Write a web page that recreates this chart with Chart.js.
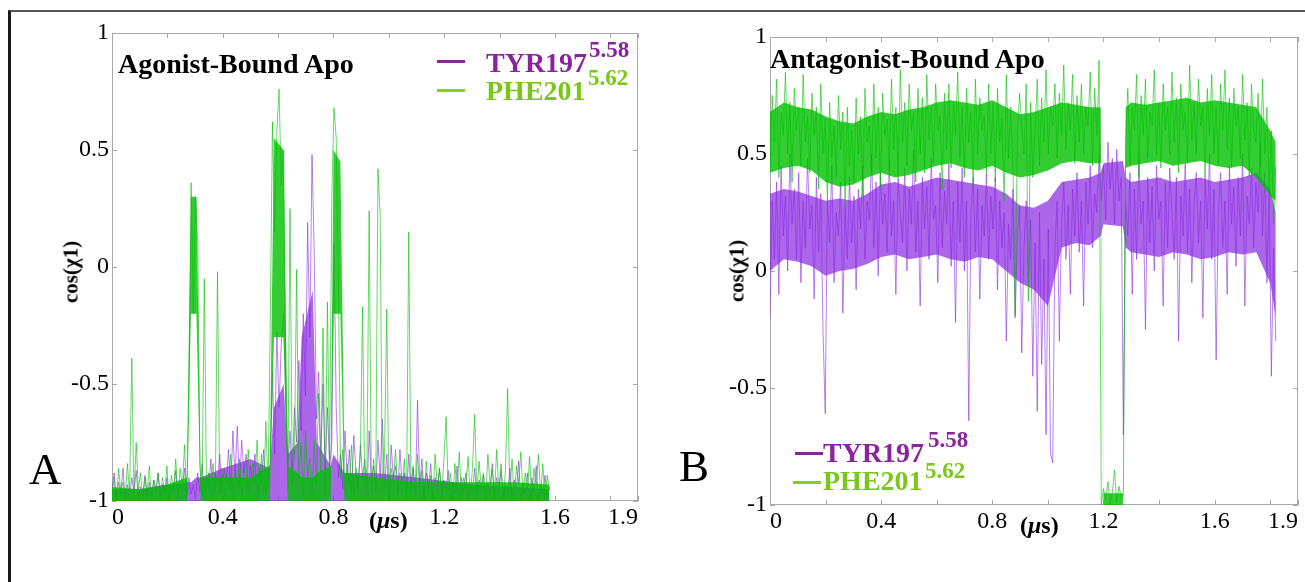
<!DOCTYPE html>
<html>
<head>
<meta charset="utf-8">
<script src="https://cdn.jsdelivr.net/npm/chart.js@4.4.1/dist/chart.umd.min.js"></script>
<style>
  html, body { margin: 0; padding: 0; background: #fff; }
  #page { position: relative; width: 1305px; height: 582px; overflow: hidden; font-family: 'Liberation Serif', 'Times New Roman', serif; }
  .frame { position: absolute; left: 8px; top: 10px; width: 1400px; height: 700px; border-top: 2px solid #555; border-left: 3px solid #1a1a1a; }
  canvas { position: absolute; top: 0; }
  .t { position: absolute; line-height: 1; white-space: nowrap; }
  .b { font-weight: bold; }
  .purple { color: #8b239f; }
  .green { color: #79c816; }
  .sw { position: absolute; height: 3px; }
  .ytitle { position: absolute; font-weight: bold; font-size: 21px; line-height: 1; white-space: nowrap; transform: translate(-50%, -50%) rotate(-90deg); }
</style>
</head>
<body>
<div id="page">
  <div class="frame"></div>
  <canvas id="agoChart" width="652" height="582" style="left:0"></canvas>
  <canvas id="antChart" width="653" height="582" style="left:652px"></canvas>

  <div class="t b" style="left:118px; top:50px; font-size:28px;">Agonist-Bound Apo</div>
  <div class="sw" style="left:437px; top:60px; width:28px; background:#8b239f;"></div>
  <div class="sw" style="left:437px; top:89px; width:28px; background:#86cc2a;"></div>
  <div class="t b purple" style="left:486px; top:49px; font-size:28px;">TYR197</div>
  <div class="t b purple" style="left:589px; top:38px; font-size:23px;">5.58</div>
  <div class="t b green" style="left:486px; top:77px; font-size:28px;">PHE201</div>
  <div class="t b green" style="left:588px; top:66px; font-size:23px;">5.62</div>
  <div class="ytitle" style="left:71px; top:272px;">cos(χ1)</div>
  <div class="t" style="left:29px; top:447px; font-size:45px;">A</div>
  <div class="t b" style="left:369px; top:508px; font-size:24px;">(<i>μ</i>s)</div>

  <div class="t b" style="left:770px; top:45px; font-size:28px;">Antagonist-Bound Apo</div>
  <div class="sw" style="left:795px; top:452px; width:28px; background:#8b239f;"></div>
  <div class="sw" style="left:793px; top:481px; width:28px; background:#86cc2a;"></div>
  <div class="t b purple" style="left:823px; top:439px; font-size:28px;">TYR197</div>
  <div class="t b purple" style="left:928px; top:428px; font-size:23px;">5.58</div>
  <div class="t b green" style="left:823px; top:467px; font-size:28px;">PHE201</div>
  <div class="t b green" style="left:925px; top:459px; font-size:23px;">5.62</div>
  <div class="ytitle" style="left:737px; top:271px;">cos(χ1)</div>
  <div class="t" style="left:679px; top:444px; font-size:45px;">B</div>
  <div class="t b" style="left:1020px; top:513px; font-size:24px;">(<i>μ</i>s)</div>
</div>
<script>
// time axis (µs)
const xTickVals = [0, 0.2, 0.4, 0.6, 0.8, 1.0, 1.2, 1.4, 1.6, 1.8, 1.9];
const xLabelVals = [0, 0.4, 0.8, 1.2, 1.6, 1.9];

// ---- Agonist-bound apo, 0 - 1.58 us ----
const agoEnd = 1.58;
// frame-to-frame trace (light spikes)
const agoTyr = [
  -0.95,-0.88,-0.99,-0.92,-0.97,-0.86,-1.0,-0.93,-0.98,-0.9,-0.96,-0.87,-0.99,-0.94,-0.97,-0.89,-1.0,-0.92,-0.98,-0.91,
  -0.96,-0.88,-0.99,-0.93,-0.97,-0.9,-1.0,-0.94,-0.96,-0.87,-0.99,-0.92,-0.95,-0.86,-0.98,-0.9,-0.97,-0.93,-0.99,-0.88,
  -0.96,-0.84,-0.99,-0.9,-0.95,-0.82,-0.98,-0.88,-0.93,-0.8,-0.97,-0.86,-0.92,-0.78,-0.95,-0.7,-0.9,-0.68,-0.94,-0.74,
  -0.88,-0.8,-0.97,-0.85,-0.92,-0.8,-0.99,-0.86,-0.93,-0.78,-0.97,-0.88,-0.84,-0.45,-0.8,-0.28,-0.6,-0.33,-0.2,-0.55,
  -0.85,-0.7,-0.92,-0.6,-0.75,-0.4,-0.7,-0.2,-0.55,0.19,-0.3,0.48,0.06,-0.65,-0.45,-0.8,-0.5,-0.88,-0.6,-0.85,
  -0.75,0.1,-0.6,-0.9,-0.8,-0.95,-0.7,-0.9,-0.78,-0.97,-0.72,-0.88,-0.95,-0.76,-0.9,-0.82,-0.98,-0.7,-0.92,-0.85,
  -0.96,-0.74,-0.9,-0.65,-0.94,-0.8,-0.99,-0.76,-0.9,-0.85,-0.97,-0.78,-0.93,-0.88,-0.99,-0.8,-0.95,-0.86,-0.98,-0.57,
  -0.94,-0.82,-0.99,-0.88,-0.95,-0.84,-1.0,-0.9,-0.96,-0.86,-0.99,-0.91,-0.95,-0.87,-1.0,-0.92,-0.97,-0.85,-0.99,-0.9,
  -0.96,-0.88,-1.0,-0.93,-0.97,-0.86,-0.99,-0.91,-0.95,-0.89,-1.0,-0.92,-0.97,-0.84,-0.99,-0.9,-0.96,-0.87,-1.0,-0.93,
  -0.97,-0.86,-0.99,-0.91,-0.95,-0.83,-1.0,-0.92,-0.97,-0.88,-0.99,-0.9,-0.96,-0.85,-1.0,-0.93,-0.97,-0.89,-0.99,-0.94
];
const agoPhe = [
  -0.98,-0.9,-1.0,-0.86,-0.96,-0.92,-0.99,-0.84,-0.97,-0.39,-0.98,-0.75,-0.95,-0.88,-1.0,-0.9,-0.96,-0.85,-0.99,-0.91,
  -0.95,-0.88,-0.99,-0.9,-0.97,-0.85,-1.0,-0.89,-0.96,-0.82,-0.99,-0.86,-0.94,-0.76,-0.98,-0.6,0.36,-0.2,0.3,0.1,
  -0.85,-0.98,-0.05,-0.95,-0.88,-0.99,-0.84,-0.96,-0.02,-0.97,-0.86,-1.0,-0.88,-0.95,-0.8,-0.99,-0.87,-0.94,-0.82,-0.98,
  -0.86,-0.95,-0.78,-0.99,-0.84,-0.93,-0.74,-0.98,-0.8,-0.97,-0.66,-0.95,-0.24,0.62,0.15,0.58,0.76,0.35,0.5,-0.4,
  -0.95,0.25,-0.9,-0.8,-0.01,-0.92,-0.75,-0.98,-0.7,-0.9,-0.82,-1.0,-0.74,-0.93,-0.54,-0.88,-0.26,-0.97,-0.15,-0.85,
  0.3,0.68,0.55,-0.07,-0.9,-0.78,-0.98,-0.84,-0.93,-0.76,-0.99,-0.86,-0.92,-0.8,-0.17,-0.95,-0.85,0.24,-0.97,-0.82,
  -0.94,0.42,0.22,-0.96,-0.8,-0.18,-0.99,-0.86,-0.92,-0.78,-0.97,-0.88,-0.95,-0.82,-1.0,0.15,-0.93,-0.85,-0.98,-0.8,
  -0.95,-0.87,-1.0,-0.83,-0.96,-0.89,-0.99,-0.8,-0.94,-0.86,-0.98,-0.82,-0.64,-0.95,-0.88,-1.0,-0.84,-0.96,-0.79,-0.99,
  -0.9,-0.94,-0.81,-0.98,-0.86,-0.63,-0.97,-0.83,-0.95,-0.88,-1.0,-0.8,-0.93,-0.86,-0.98,-0.78,-0.95,-0.84,-0.99,-0.87,
  -0.52,-0.96,-0.82,-0.99,-0.85,-0.93,-0.79,-0.98,-0.88,-0.95,-0.81,-1.0,-0.86,-0.94,-0.8,-0.97,-0.84,-0.99,-0.89,-0.95
];
// dense core of each trace (lower / upper edge)
const agoBandT  = [0, 0.1, 0.2, 0.27, 0.285, 0.305, 0.32, 0.4, 0.5, 0.57, 0.585, 0.62, 0.635, 0.67, 0.685, 0.725, 0.74, 0.79, 0.8, 0.825, 0.84, 0.95, 1.1, 1.3, 1.45, 1.58];
const agoTyrHi  = [-0.95,-0.95,-0.93,-0.92,-0.92,-0.9,-0.9,-0.86,-0.82,-0.86,-0.6,-0.5,-0.8,-0.75,-0.3,-0.1,-0.75,-0.85,-0.8,-0.85,-0.88,-0.88,-0.9,-0.93,-0.94,-0.95];
const agoTyrLo  = [-1,-1,-1,-1,-1,-1,-1,-1,-1,-1,-1,-1,-1,-1,-1,-1,-1,-1,-1,-1,-1,-1,-1,-1,-1,-1];
const agoPheHi  = [-0.94,-0.95,-0.93,-0.9,0.3,0.3,-0.9,-0.9,-0.9,-0.85,0.55,0.5,-0.85,-0.88,-0.9,-0.9,-0.88,-0.85,0.5,0.45,-0.88,-0.9,-0.92,-0.92,-0.92,-0.93];
const agoPheLo  = [-1,-1,-1,-1,-0.2,-0.2,-1,-1,-1,-1,-0.3,-0.3,-1,-1,-1,-1,-1,-1,-0.2,-0.2,-1,-1,-1,-1,-1,-1];

// ---- Antagonist-bound apo, 0 - 1.82 us ----
const antEnd = 1.82;
const antTyr = [
  -0.2,0.3,0.05,0.38,-0.1,0.45,0.15,0.32,0.0,0.5,0.2,0.35,0.05,0.42,-0.05,0.3,0.1,0.48,0.18,0.28,
  -0.12,0.4,0.08,0.33,-0.25,-0.61,0.3,0.12,0.45,-0.05,0.25,0.15,0.38,-0.18,0.28,0.05,0.4,0.12,0.32,-0.08,
  0.35,0.18,0.45,0.05,0.3,0.22,0.5,0.1,0.38,-0.02,0.42,0.2,0.33,0.08,0.47,0.15,0.3,-0.1,0.4,0.25,
  0.12,0.44,0.0,0.35,0.2,0.52,0.08,0.3,-0.15,0.4,0.18,0.36,0.05,0.48,0.22,0.28,-0.05,0.42,0.1,0.34,
  0.2,0.46,0.02,0.3,-0.22,0.38,0.12,0.44,0.0,0.3,-0.64,0.25,0.4,0.08,0.35,-0.12,0.28,0.15,0.42,0.05,
  0.32,0.18,0.4,-0.08,0.3,0.1,0.25,-0.3,0.2,0.05,0.35,-0.2,0.15,0.28,-0.35,0.1,0.3,-0.05,0.22,-0.45,
  0.12,-0.6,0.25,-0.4,0.05,-0.7,0.18,-0.78,-0.82,0.1,0.3,-0.3,0.2,0.38,0.05,0.28,-0.1,0.35,0.15,0.42,
  0.08,0.3,-0.15,0.38,0.2,0.45,0.1,0.33,0.25,0.5,0.3,0.45,0.22,0.55,0.35,0.48,0.2,0.52,0.3,0.4,
  -0.7,0.3,0.15,0.42,-0.1,0.35,0.05,0.48,0.2,0.3,-0.25,0.4,0.12,0.36,0.0,0.45,0.22,0.3,-0.15,0.38,
  0.1,0.44,0.25,0.05,0.4,-0.3,0.32,0.15,0.46,0.08,0.35,-0.05,0.28,0.42,0.12,0.3,-0.2,0.4,0.18,0.5,
  0.05,0.35,-0.38,0.25,0.42,0.1,0.3,-0.1,0.45,0.2,0.36,0.02,0.4,0.15,0.5,-0.15,0.32,0.2,0.44,0.1,
  0.38,0.25,0.55,0.15,0.42,-0.05,0.35,-0.45,0.1,-0.3
];
const antPhe = [
  0.45,0.75,0.55,0.82,0.4,0.68,0.58,0.85,0.5,0.72,0.38,0.78,0.6,0.7,0.45,0.84,0.55,0.66,0.42,0.76,
  0.58,0.7,0.35,0.8,0.5,0.65,0.3,0.72,0.48,0.62,0.4,0.75,0.52,0.68,0.28,0.7,0.45,0.6,0.38,0.74,
  0.5,0.66,0.32,0.78,0.55,0.62,0.42,0.8,0.48,0.7,0.36,0.76,0.58,0.65,0.44,0.82,0.52,0.7,0.4,0.86,
  0.55,0.72,0.45,0.8,0.6,0.68,0.38,0.78,0.5,0.74,0.42,0.84,0.56,0.7,0.46,0.8,0.6,0.66,0.35,0.76,
  0.52,0.8,0.44,0.72,0.58,0.85,0.48,0.7,0.4,0.78,0.55,0.68,0.36,0.82,0.5,0.74,0.6,0.66,0.42,0.8,
  0.5,0.72,0.38,0.78,0.55,0.65,0.3,0.84,0.48,0.7,0.44,-0.19,0.58,0.76,0.62,0.5,0.8,-0.13,0.72,0.4,
  0.6,0.82,0.45,0.74,0.55,0.86,0.5,0.7,0.62,0.8,0.48,0.76,0.58,0.88,0.52,0.72,0.6,0.84,0.46,0.75,
  0.55,0.8,0.5,0.7,0.62,0.85,0.45,0.78,0.58,0.9,-1.0,-0.93,-0.98,-0.9,-1.0,-0.95,-0.85,-0.99,-0.92,-0.97,
  -0.96,0.55,0.78,0.45,0.7,0.6,0.84,0.4,0.75,0.58,0.82,0.48,0.68,0.62,0.86,0.5,0.72,0.44,0.8,0.6,
  0.7,0.5,0.85,0.55,0.74,0.42,0.8,0.6,0.68,0.46,0.88,0.56,0.72,0.5,0.82,0.62,0.7,0.4,0.78,0.58,
  0.84,0.5,0.7,0.45,0.8,0.6,0.86,0.52,0.74,0.44,0.78,0.62,0.7,0.48,0.84,0.56,0.72,0.4,0.8,0.6,
  0.55,0.76,0.45,0.82,0.5,0.7,0.35,0.6,0.2,0.45
];
const antBandT = [0,0.05,0.1,0.15,0.2,0.25,0.3,0.35,0.4,0.45,0.5,0.55,0.6,0.65,0.7,0.75,0.8,0.85,0.9,0.95,1.0,1.05,1.1,1.15,1.19,1.2,1.27,1.28,1.3,1.35,1.4,1.45,1.5,1.55,1.6,1.65,1.7,1.75,1.8,1.82];
const antTyrHi = [0.33,0.35,0.34,0.32,0.3,0.31,0.3,0.33,0.37,0.38,0.36,0.38,0.4,0.39,0.38,0.37,0.36,0.33,0.28,0.27,0.3,0.38,0.39,0.4,0.42,0.46,0.47,0.4,0.38,0.39,0.4,0.38,0.39,0.4,0.38,0.39,0.4,0.42,0.35,0.25];
const antTyrLo = [0.0,0.05,0.04,0.02,-0.02,0.0,0.01,0.03,0.06,0.07,0.05,0.06,0.07,0.05,0.04,0.06,0.05,0.0,-0.05,-0.08,-0.15,0.1,0.12,0.11,0.15,0.2,0.19,0.1,0.08,0.07,0.06,0.08,0.07,0.05,0.06,0.08,0.07,0.08,-0.05,-0.2];
const antPheHi = [0.68,0.72,0.7,0.69,0.66,0.64,0.63,0.66,0.68,0.67,0.69,0.7,0.72,0.73,0.72,0.71,0.73,0.7,0.67,0.68,0.7,0.72,0.71,0.7,0.7,-0.95,-0.95,0.7,0.72,0.71,0.72,0.73,0.74,0.72,0.73,0.72,0.71,0.7,0.6,0.55];
const antPheLo = [0.42,0.44,0.45,0.43,0.38,0.36,0.37,0.4,0.42,0.4,0.41,0.43,0.45,0.46,0.44,0.43,0.45,0.42,0.4,0.41,0.43,0.46,0.47,0.46,0.46,-1,-1,0.44,0.45,0.46,0.47,0.45,0.46,0.47,0.45,0.44,0.45,0.4,0.32,0.3];

const purpleLine = 'rgba(138, 43, 226, 0.6)';
const purpleCore = 'rgba(138, 43, 226, 0.72)';
const greenLine = 'rgba(0, 190, 0, 0.6)';
const greenCore = 'rgba(0, 192, 0, 0.8)';

// gray frame with inward tick marks, like the original plots
const framePlugin = {
  id: 'frameTicks',
  beforeDatasetsDraw(chart) {
    const { ctx, chartArea: a, scales: { x, y } } = chart;
    ctx.save();
    ctx.strokeStyle = '#a8a8a8';
    ctx.lineWidth = 1;
    ctx.strokeRect(a.left + 0.5, a.top + 0.5, a.width - 1, a.height - 1);
    ctx.beginPath();
    x.ticks.forEach(t => {
      const px = Math.round(x.getPixelForValue(t.value)) + 0.5;
      ctx.moveTo(px, a.top); ctx.lineTo(px, a.top + 5);
      ctx.moveTo(px, a.bottom); ctx.lineTo(px, a.bottom - 5);
    });
    y.ticks.forEach(t => {
      const py = Math.round(y.getPixelForValue(t.value)) + 0.5;
      ctx.moveTo(a.left, py); ctx.lineTo(a.left + 5, py);
      ctx.moveTo(a.right, py); ctx.lineTo(a.right - 5, py);
    });
    ctx.stroke();
    ctx.restore();
  }
};

function toPoints(values, tEnd) {
  const dt = tEnd / (values.length - 1);
  return values.map((v, i) => ({ x: i * dt, y: v }));
}
function zipPoints(times, values) {
  return times.map((t, i) => ({ x: t, y: values[i] }));
}

function makeChart(id, s, padding) {
  const ctx = document.getElementById(id).getContext('2d');
  const edge = { borderWidth: 0, pointRadius: 0, tension: 0 };
  const trace = { borderWidth: 1, pointRadius: 0, tension: 0, fill: false };
  return new Chart(ctx, {
    type: 'line',
    data: {
      datasets: [
        { ...edge, data: zipPoints(s.bandT, s.tyrLo), fill: false, order: 4 },
        { ...edge, data: zipPoints(s.bandT, s.tyrHi), fill: '-1', backgroundColor: purpleCore, order: 4 },
        { ...trace, label: 'TYR197', data: toPoints(s.tyr, s.tEnd), borderColor: purpleLine, order: 3 },
        { ...edge, data: zipPoints(s.bandT, s.pheLo), fill: false, order: 2 },
        { ...edge, data: zipPoints(s.bandT, s.pheHi), fill: '-1', backgroundColor: greenCore, order: 2 },
        { ...trace, label: 'PHE201', data: toPoints(s.phe, s.tEnd), borderColor: greenLine, order: 1 }
      ]
    },
    options: {
      responsive: false,
      animation: false,
      devicePixelRatio: 1,
      events: [],
      layout: { padding },
      plugins: { legend: { display: false }, tooltip: { enabled: false }, filler: { drawTime: 'beforeDatasetDraw' } },
      scales: {
        x: {
          type: 'linear', min: 0, max: 1.9,
          afterBuildTicks: sc => { sc.ticks = xTickVals.map(v => ({ value: v })); },
          afterFit: sc => { sc.height = 40; sc.paddingLeft = 0; sc.paddingRight = 0; },
          grid: { display: false, drawTicks: false },
          border: { display: false },
          ticks: {
            autoSkip: false, maxRotation: 0, align: 'inner', padding: 2, color: '#000',
            font: { family: "'Liberation Serif', serif", size: 24 },
            callback: v => xLabelVals.includes(v) ? String(v) : ''
          }
        },
        y: {
          type: 'linear', min: -1, max: 1,
          afterFit: sc => { sc.width = 50; sc.paddingTop = 0; sc.paddingBottom = 0; },
          grid: { display: false, drawTicks: false },
          border: { display: false },
          ticks: {
            stepSize: 0.5, padding: 3, color: '#000',
            font: { family: "'Liberation Serif', serif", size: 24 },
            callback: v => String(v)
          }
        }
      }
    },
    plugins: [framePlugin]
  });
}

makeChart('agoChart', {
  tEnd: agoEnd, tyr: agoTyr, phe: agoPhe,
  bandT: agoBandT, tyrLo: agoTyrLo, tyrHi: agoTyrHi, pheLo: agoPheLo, pheHi: agoPheHi
}, { left: 62, right: 14, top: 33, bottom: 41 });

makeChart('antChart', {
  tEnd: antEnd, tyr: antTyr, phe: antPhe,
  bandT: antBandT, tyrLo: antTyrLo, tyrHi: antTyrHi, pheLo: antPheLo, pheHi: antPheHi
}, { left: 68, right: 7, top: 37, bottom: 37 });
</script>
</body>
</html>
